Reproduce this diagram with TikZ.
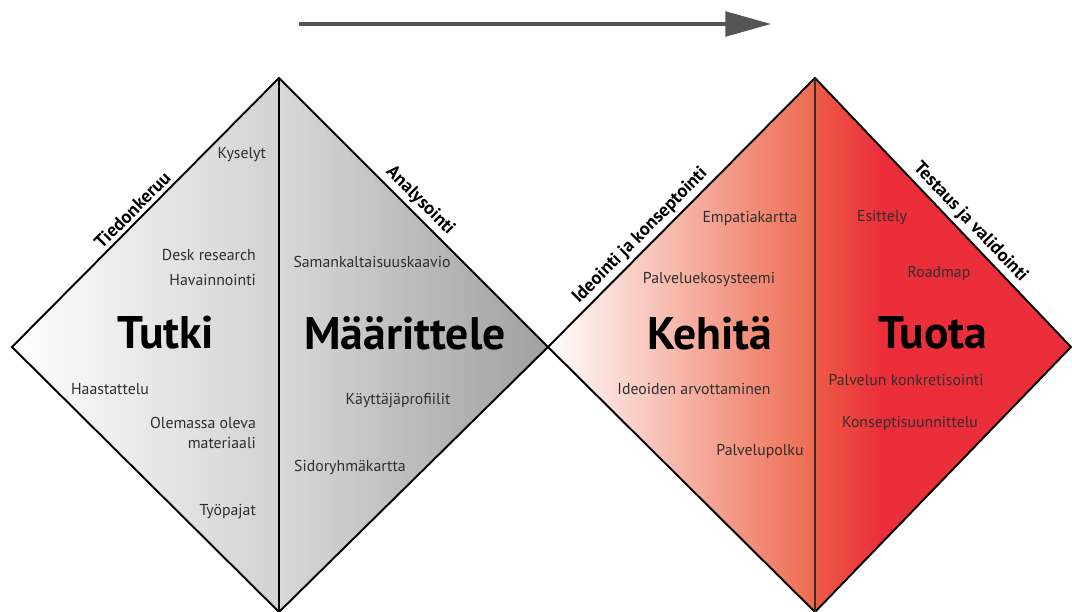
\documentclass[tikz,border=0pt]{standalone}
\usepackage{fontspec}
\setmainfont{PT Sans}
\usetikzlibrary{arrows.meta}

\definecolor{arrowgray}{HTML}{555555}
\definecolor{tutkigray}{HTML}{D2D2D2}
\definecolor{maargrayA}{HTML}{D8D8D8}
\definecolor{maargrayB}{HTML}{A0A0A0}
\definecolor{kehsalmon}{HTML}{EE6A50}
\definecolor{tuotaorange}{HTML}{EE5C46}
\definecolor{tuotared}{HTML}{EC2D3A}
\definecolor{itemtext}{HTML}{2E2E2E}
\definecolor{midline}{HTML}{3A2A22}

% red fill reaches full red a quarter of the way in
\pgfdeclarehorizontalshading{tuotafill}{100bp}{color(0bp)=(tuotaorange); color(25bp)=(tuotaorange); color(38bp)=(tuotared); color(100bp)=(tuotared)}

\tikzset{
  item/.style={font=\fontsize{9}{11.5}\selectfont, text=itemtext, inner sep=1pt},
  phase/.style={font=\fontsize{26}{30}\selectfont\bfseries, inner sep=0pt},
  edgelabel/.style={font=\fontsize{10.5}{12}\selectfont\bfseries, sloped, above, inner sep=2pt},
  outline/.style={line width=1.1pt, line join=miter}
}

\begin{document}
\begin{tikzpicture}[x=0.02cm,y=-0.02cm]
  \useasboundingbox (0,0) rectangle (1072,612);

  % corners of the two diamonds
  \coordinate (L1) at (12,347);
  \coordinate (T1) at (279,78);
  \coordinate (M) at (548,347);
  \coordinate (B1) at (279,612);
  \coordinate (T2) at (815,78);
  \coordinate (R2) at (1071,347);
  \coordinate (B2) at (815,612);

  % fills
  \shade[left color=white, right color=tutkigray] (L1) -- (T1) -- (B1) -- cycle;
  \shade[left color=maargrayA, right color=maargrayB] (T1) -- (M) -- (B1) -- cycle;
  \shade[left color=white, right color=kehsalmon] (M) -- (T2) -- (B2) -- cycle;
  \shade[shading=tuotafill] (T2) -- (R2) -- (B2) -- cycle;

  % outlines
  \draw[outline] (L1) -- node[edgelabel, pos=.48] (tiedon) {Tiedonkeruu} (T1)
    -- node[edgelabel, pos=.49] (analys) {Analysointi} (M) -- (B1) -- cycle;
  \draw[outline] (T1) -- (B1);
  \draw[outline] (M) -- node[edgelabel, pos=.38] (ideoin) {Ideointi ja konseptointi} (T2)
    -- node[edgelabel, pos=.57] (testaus) {Testaus ja validointi} (R2) -- (B2) -- cycle;
  \draw[outline, midline] (T2) -- (B2);

  % arrow
  \coordinate (a0) at (299,24);
  \coordinate (a1) at (771,24);
  \draw[arrowgray, line width=2.2pt, -{Triangle[length=26pt,width=14pt]}] (a0) -- (a1);

  % Tutki
  \node[item, anchor=east] (kyselyt) at (268,155) {Kyselyt};
  \node[item, anchor=east] (desk) at (258,255) {Desk research};
  \node[item, anchor=east] (havain) at (258,280) {Havainnointi};
  \node[phase] (tutki) at (166,333) {Tutki};
  \node[item] (haast) at (110,389) {Haastattelu};
  \node[item, anchor=east, align=right] (olemassa) at (258,433) {Olemassa oleva\\materiaali};
  \node[item, anchor=east] (tyopajat) at (258,512) {Työpajat};

  % Määrittele
  \node[item] (saman) at (372,262) {Samankaltaisuuskaavio};
  \node[phase] (maar) at (405,333) {Määrittele};
  \node[item] (kaytt) at (398,401) {Käyttäjäprofiilit};
  \node[item] (sidor) at (350,467) {Sidoryhmäkartta};

  % Kehitä
  \node[item] (empat) at (750,218) {Empatiakartta};
  \node[item] (ekosys) at (709,280) {Palveluekosysteemi};
  \node[phase] (kehita) at (710,333) {Kehitä};
  \node[item] (arvot) at (694,389) {Ideoiden arvottaminen};
  \node[item] (polku) at (760,451) {Palvelupolku};

  % Tuota
  \node[item] (esitt) at (882,218) {Esittely};
  \node[item] (roadmap) at (939,273) {Roadmap};
  \node[phase] (tuota) at (933,333) {Tuota};
  \node[item] (konkr) at (906,380) {Palvelun konkretisointi};
  \node[item] (konsep) at (910,423) {Konseptisuunnittelu};
\end{tikzpicture}
\end{document}
